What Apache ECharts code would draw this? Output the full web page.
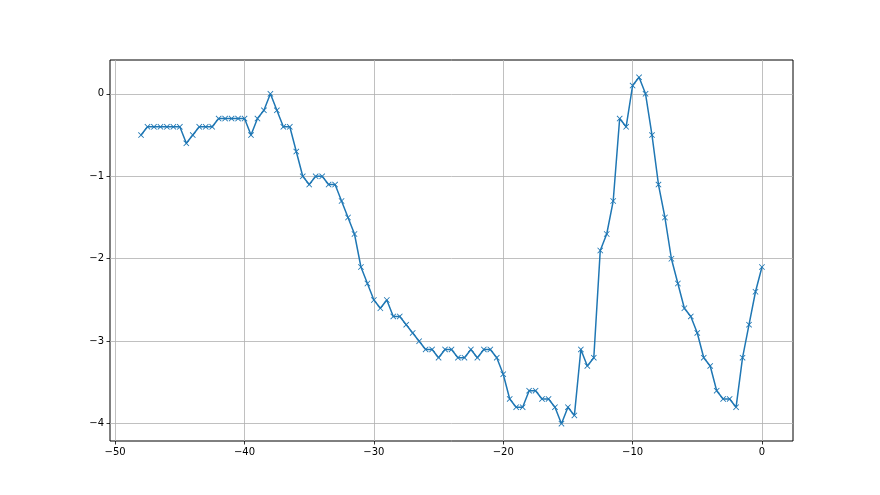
<!DOCTYPE html>
<html>
<head>
<meta charset="utf-8">
<script src="https://cdn.jsdelivr.net/npm/echarts@6/dist/echarts.min.js"></script>
<style>
  html, body { margin: 0; padding: 0; background: #fff; }
  #chart { width: 880px; height: 495px; }
</style>
</head>
<body>
<div id="chart"></div>
<script>
// x positions (step 0.5, from -48 to 0)
var xValues = [
  -48, -47.5, -47, -46.5, -46, -45.5, -45, -44.5, -44, -43.5,
  -43, -42.5, -42, -41.5, -41, -40.5, -40, -39.5, -39, -38.5,
  -38, -37.5, -37, -36.5, -36, -35.5, -35, -34.5, -34, -33.5,
  -33, -32.5, -32, -31.5, -31, -30.5, -30, -29.5, -29, -28.5,
  -28, -27.5, -27, -26.5, -26, -25.5, -25, -24.5, -24, -23.5,
  -23, -22.5, -22, -21.5, -21, -20.5, -20, -19.5, -19, -18.5,
  -18, -17.5, -17, -16.5, -16, -15.5, -15, -14.5, -14, -13.5,
  -13, -12.5, -12, -11.5, -11, -10.5, -10, -9.5, -9, -8.5,
  -8, -7.5, -7, -6.5, -6, -5.5, -5, -4.5, -4, -3.5,
  -3, -2.5, -2, -1.5, -1, -0.5, 0
];
// y values
var yValues = [
  -0.5, -0.4, -0.4, -0.4, -0.4, -0.4, -0.4, -0.6, -0.5, -0.4,
  -0.4, -0.4, -0.3, -0.3, -0.3, -0.3, -0.3, -0.5, -0.3, -0.2,
  0.0, -0.2, -0.4, -0.4, -0.7, -1.0, -1.1, -1.0, -1.0, -1.1,
  -1.1, -1.3, -1.5, -1.7, -2.1, -2.3, -2.5, -2.6, -2.5, -2.7,
  -2.7, -2.8, -2.9, -3.0, -3.1, -3.1, -3.2, -3.1, -3.1, -3.2,
  -3.2, -3.1, -3.2, -3.1, -3.1, -3.2, -3.4, -3.7, -3.8, -3.8,
  -3.6, -3.6, -3.7, -3.7, -3.8, -4.0, -3.8, -3.9, -3.1, -3.3,
  -3.2, -1.9, -1.7, -1.3, -0.3, -0.4, 0.1, 0.2, 0.0, -0.5,
  -1.1, -1.5, -2.0, -2.3, -2.6, -2.7, -2.9, -3.2, -3.3, -3.6,
  -3.7, -3.7, -3.8, -3.2, -2.8, -2.4, -2.1
];
var xTicks = [-50, -40, -30, -20, -10, 0];
var yTicks = [-4, -3, -2, -1, 0];

var points = xValues.map(function (x, i) { return [x, yValues[i]]; });

function minusSign(v) {
  return String(v).replace('-', '\u2212');
}

var chart = echarts.init(document.getElementById('chart'));
var option = {
  backgroundColor: '#fff',
  animation: false,
  grid: {
    left: 110, right: 87, top: 60, bottom: 54,
    show: true,
    borderColor: '#000',
    borderWidth: 1,
    backgroundColor: 'transparent'
  },
  xAxis: {
    type: 'value',
    min: -50.4,
    max: 2.4,
    axisLine: { show: false, onZero: false },
    axisTick: {
      show: true, inside: false, length: 3.5, customValues: xTicks,
      lineStyle: { color: '#000', width: 0.8 }
    },
    axisLabel: {
      customValues: xTicks,
      formatter: minusSign,
      color: '#000',
      fontFamily: 'DejaVu Sans',
      fontSize: 10,
      margin: 6
    },
    splitLine: { show: true, lineStyle: { color: '#b0b0b0', width: 0.8 } }
  },
  yAxis: {
    type: 'value',
    min: -4.21,
    max: 0.41,
    axisLine: { show: false, onZero: false },
    axisTick: {
      show: true, inside: false, length: 3.5, customValues: yTicks,
      lineStyle: { color: '#000', width: 0.8 }
    },
    axisLabel: {
      customValues: yTicks,
      formatter: minusSign,
      color: '#000',
      fontFamily: 'DejaVu Sans',
      fontSize: 10,
      margin: 6
    },
    splitLine: { show: true, lineStyle: { color: '#b0b0b0', width: 0.8 } }
  },
  series: [{
    type: 'line',
    data: points,
    symbol: 'path://M0,1L1,0L5,4L9,0L10,1L6,5L10,9L9,10L5,6L1,10L0,9L4,5Z',
    symbolSize: 6,
    showAllSymbol: true,
    itemStyle: { color: '#1f77b4' },
    lineStyle: { color: '#1f77b4', width: 1.5 }
  }]
};
chart.setOption(option);
</script>
</body>
</html>
